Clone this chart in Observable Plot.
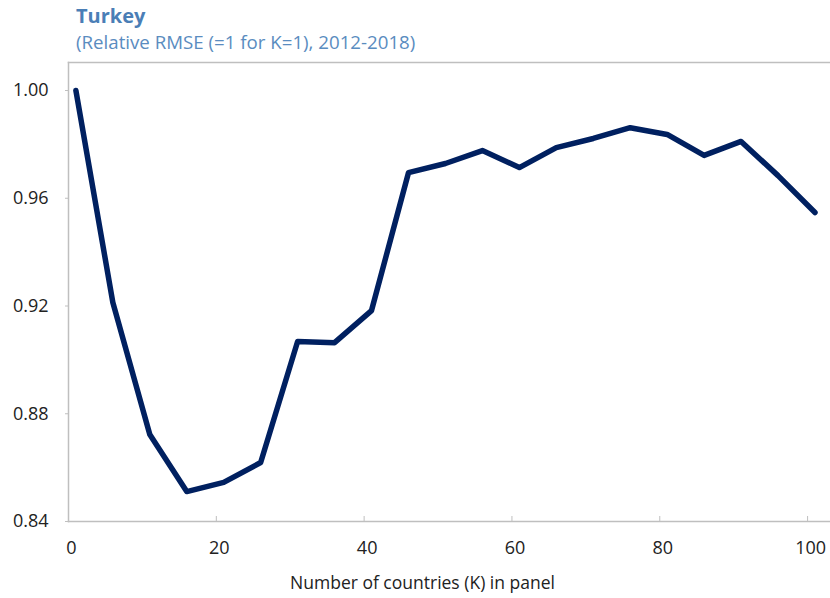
<!DOCTYPE html>
<html><head><meta charset="utf-8">
<script src="https://cdn.jsdelivr.net/npm/d3@7"></script>
<script src="https://cdn.jsdelivr.net/npm/@observablehq/plot@0.6"></script>
<style>
body{margin:0;background:#fff;font-family:"Open Sans",sans-serif;}
#head{height:56px;position:relative;}
#title{position:absolute;left:76px;top:2px;font-weight:bold;font-size:20px;color:#4a7eb6;}
#sub{position:absolute;left:76px;top:29px;font-size:18.7px;color:#5a8cc0;}
</style></head><body>
<div id="head"><div id="title">Turkey</div><div id="sub">(Relative RMSE (=1 for K=1), 2012-2018)</div></div>
<div id="chart"></div>
<script>
const kValues = [1, 6, 11, 16, 21, 26, 31, 36, 41, 46, 51, 56, 61, 66, 71, 76, 81, 86, 91, 96, 101];
const rmse = [1.000, 0.9213, 0.8723, 0.8511, 0.8545, 0.8619, 0.9068, 0.9064, 0.9183, 0.9695, 0.9729, 0.9777, 0.9714, 0.9788, 0.9822, 0.9862, 0.9837, 0.9759, 0.9811, 0.9684, 0.9547];
const xTicks = [0, 20, 40, 60, 80, 100];
const yTicks = [0.84, 0.88, 0.92, 0.96, 1.00];
const xLabel = "Number of countries (K) in panel";

const data = kValues.map((k, i) => ({k, v: rmse[i]}));
const gray = "#bfbfbf";
const chart = Plot.plot({
  width: 830, height: 542,
  marginTop: 6, marginLeft: 68, marginRight: 0, marginBottom: 77,
  x: {domain: [0, 103.1]},
  y: {domain: [0.84, 1.0104]},
  style: {fontFamily: '"Open Sans", sans-serif', fontSize: "18px", color: "#222", background: "#fff"},
  marks: [
    Plot.frame({anchor: "top", stroke: gray, strokeWidth: 1.5}),
    Plot.frame({anchor: "left", stroke: gray, strokeWidth: 1.5}),
    Plot.frame({anchor: "bottom", stroke: gray, strokeWidth: 1.5}),
    Plot.axisY(yTicks, {tickSize: 3, tickPadding: 17, tickFormat: d3.format(".2f"), stroke: gray, fill: "#222", label: null, fontSize: 18}),
    Plot.axisX(xTicks, {tickSize: 5, dy: -5, stroke: gray, tickFormat: () => "", label: null}),
    Plot.axisX(xTicks, {tickSize: 0, tickPadding: 20, dx: 3, fill: "#222", fontSize: 18, label: null}),
    Plot.text([xLabel], {frameAnchor: "bottom", dy: 62, dx: -27, fill: "#222", fontSize: 17.5, lineAnchor: "middle"}),
    Plot.line(data, {x: "k", y: "v", stroke: "#002060", strokeWidth: 5.5, strokeLinecap: "round", strokeLinejoin: "round"})
  ]
});
document.getElementById("chart").appendChild(chart);
</script>
</body></html>
